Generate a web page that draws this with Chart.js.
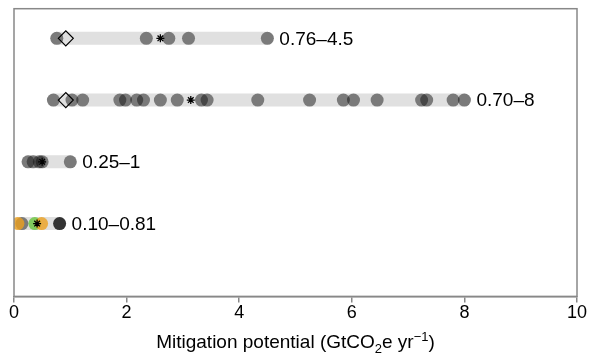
<!DOCTYPE html>
<html>
<head>
<meta charset="utf-8">
<script src="https://cdn.jsdelivr.net/npm/chart.js@4.4.0/dist/chart.umd.min.js"></script>
<style>
  html, body { margin: 0; padding: 0; background: #fff; }
  #wrap { width: 595px; height: 360px; }
</style>
</head>
<body>
<div id="wrap"><canvas id="chart"></canvas></div>
<script>
// rows from top to bottom
const rowLabels = ["0.76\u20134.5", "0.70\u20138", "0.25\u20131", "0.10\u20130.81"];
const rowMin = [0.76, 0.70, 0.25, 0.10];
const rowMax = [4.5, 8, 1, 0.81];
const rowPoints = [
    [0.76, 2.35, 2.75, 3.1, 4.5],
    [0.70, 1.03, 1.22, 1.88, 1.98, 2.18, 2.3, 2.6, 2.9, 3.33, 3.43, 4.33, 5.25, 5.85, 6.03, 6.45, 7.24, 7.33, 7.8, 8.0],
    [0.25, 0.34, 0.45, 0.5, 1.0],
    [0.14]
];
const rowStar = [2.6, 3.14, 0.5, 0.41];
const rowDiamond = [0.92, 0.92, null, null];

// coloured points of the bottom row
const orangePoints = [0.07, 0.49];
const greenPoints = [0.37];
const darkPoints = [0.81];

const xTicks = [0, 2, 4, 6, 8, 10];
const FONT = "'Liberation Sans', Arial, Helvetica, sans-serif";

const rowY = i => rowLabels.length - i;

let datasets = [];

rowLabels.forEach((lab, i) => {
    datasets.push({
        data: [{x: rowMin[i], y: rowY(i)}, {x: rowMax[i], y: rowY(i)}],
        showLine: true,
        borderColor: "#e0e0e0",
        borderWidth: 13,
        borderCapStyle: "round",
        pointRadius: 0,
        order: 10
    });
});

datasets.push({
    data: rowPoints.flatMap((pts, i) => pts.map(v => ({x: v, y: rowY(i)}))),
    backgroundColor: "rgba(20,20,20,0.5)",
    borderWidth: 0,
    pointRadius: 6.5,
    order: 6
});
datasets.push({
    data: orangePoints.map(v => ({x: v, y: rowY(3)})),
    backgroundColor: "rgba(236,160,30,0.8)",
    borderWidth: 0,
    pointRadius: 6.5,
    order: 5
});
datasets.push({
    data: greenPoints.map(v => ({x: v, y: rowY(3)})),
    backgroundColor: "rgba(110,200,70,0.85)",
    borderWidth: 0,
    pointRadius: 6.5,
    order: 5
});
datasets.push({
    data: darkPoints.map(v => ({x: v, y: rowY(3)})),
    backgroundColor: "#333333",
    borderWidth: 0,
    pointRadius: 6.5,
    order: 5
});
datasets.push({
    data: rowDiamond.map((v, i) => v === null ? null : ({x: v, y: rowY(i)})).filter(p => p),
    pointStyle: "rectRot",
    backgroundColor: "rgba(0,0,0,0)",
    borderColor: "#000",
    borderWidth: 1.2,
    pointRadius: 7.5,
    order: 2
});
datasets.push({
    data: rowStar.map((v, i) => ({x: v, y: rowY(i)})),
    pointStyle: "star",
    backgroundColor: "#000",
    borderColor: "#000",
    borderWidth: 1.3,
    pointRadius: 4,
    order: 1
});

const boxAndText = {
    id: "boxAndText",
    afterDatasetsDraw(chart) {
        const ctx = chart.ctx;
        const a = chart.chartArea;
        const xs = chart.scales.x, ys = chart.scales.y;
        ctx.save();
        ctx.strokeStyle = "#888";
        ctx.lineWidth = 1.5;
        ctx.strokeRect(a.left, a.top, a.right - a.left, a.bottom - a.top);

        ctx.fillStyle = "#000";
        ctx.font = "19px " + FONT;
        ctx.textBaseline = "middle";
        ctx.textAlign = "left";
        rowLabels.forEach((lab, i) => {
            ctx.fillText(lab, xs.getPixelForValue(rowMax[i]) + 12, ys.getPixelForValue(rowY(i)) + 1);
        });

        // axis title with sub/superscript
        const parts = [
            ["Mitigation potential (GtCO", 19, 0],
            ["2", 13, 5],
            ["e yr", 19, 0],
            ["\u22121", 13, -7],
            [")", 19, 0]
        ];
        ctx.textBaseline = "alphabetic";
        let w = 0;
        parts.forEach(p => { ctx.font = p[1] + "px " + FONT; w += ctx.measureText(p[0]).width; });
        let x = (a.left + a.right) / 2 - w / 2;
        const base = a.bottom + 52;
        parts.forEach(p => {
            ctx.font = p[1] + "px " + FONT;
            ctx.fillText(p[0], x, base + p[2]);
            x += ctx.measureText(p[0]).width;
        });
        ctx.restore();
    }
};

new Chart(document.getElementById("chart"), {
    type: "scatter",
    data: { datasets: datasets },
    options: {
        responsive: true,
        maintainAspectRatio: false,
        animation: false,
        events: [],
        layout: { padding: { left: 14, right: 18, top: 7, bottom: 36 } },
        plugins: { legend: { display: false }, tooltip: { enabled: false } },
        scales: {
            x: {
                type: "linear",
                min: 0,
                max: 10,
                afterBuildTicks: scale => { scale.ticks = xTicks.map(v => ({value: v})); },
                grid: { display: true, drawOnChartArea: false, drawTicks: true, tickLength: 6, color: "#888", lineWidth: 1.5 },
                border: { display: true, color: "#888", width: 1.5 },
                ticks: { color: "#000", font: { family: FONT, size: 18 }, padding: 0 }
            },
            y: {
                type: "linear",
                display: false,
                min: -0.18,
                max: 4.48
            }
        }
    },
    plugins: [boxAndText]
});
</script>
</body>
</html>
